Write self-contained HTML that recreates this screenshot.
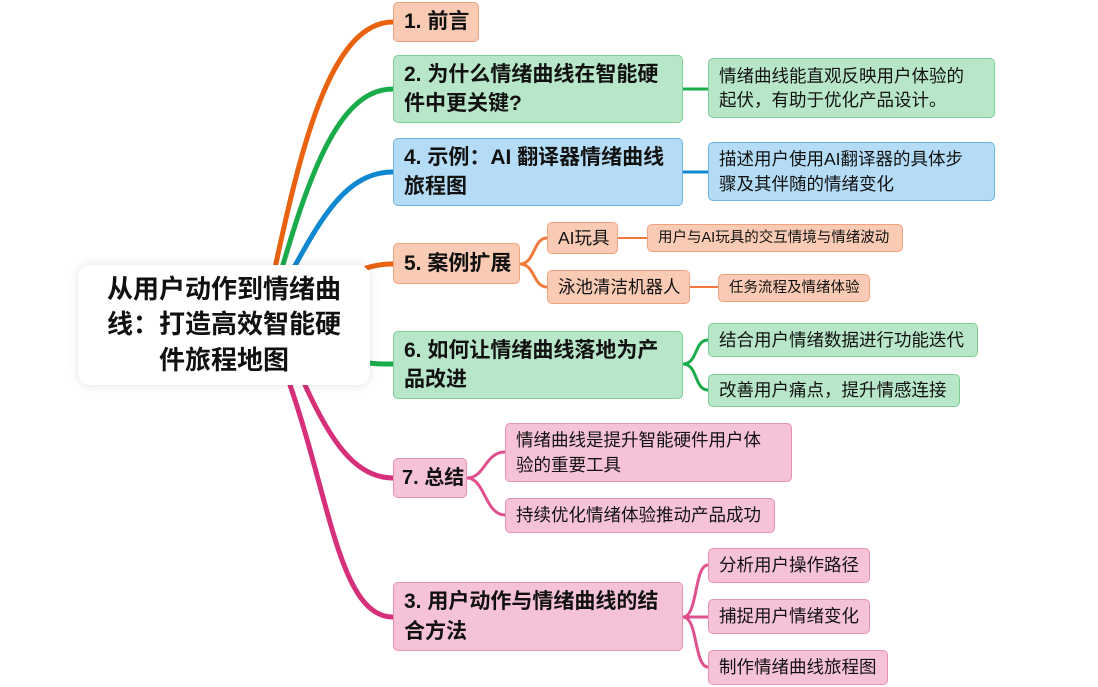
<!DOCTYPE html>
<html><head><meta charset="utf-8"><style>
body{margin:0;width:1098px;height:687px;background:#fff;position:relative;overflow:hidden;font-family:"Liberation Sans","Noto Sans CJK SC",sans-serif;color:#111}
.n{position:absolute;box-sizing:border-box;border-radius:5px;border:1.5px solid;padding:0 8px 0 10px;display:flex;align-items:center;line-height:1.4;white-space:nowrap}
.b{font-weight:bold;font-size:21px}
.s{font-size:17.5px}
.t{font-size:14.5px}
.o{background:#f9cab4;border-color:#f2a27e}
.g{background:#b8e6c8;border-color:#7fcf95}
.bl{background:#b5dcf6;border-color:#6fb6e6}
.p{background:#f5c2d8;border-color:#e891b7}
#root{position:absolute;left:78px;top:265px;width:292px;height:120px;background:#fff;border-radius:12px;box-shadow:0 0 10px rgba(0,0,0,.12);font-weight:bold;font-size:26px;text-align:center;line-height:1.35;display:flex;align-items:center;justify-content:center;box-sizing:border-box;white-space:nowrap}
</style></head><body>
<svg width="1098" height="687" style="position:absolute;left:0;top:0" fill="none" stroke-linecap="round">
<g stroke-width="5">
<path d="M272 282 C300 150 330 22 393 22" stroke="#e8620f"/>
<path d="M278 282 C310 170 340 89 393 89" stroke="#1aab4a"/>
<path d="M286 282 C320 220 345 172 393 172" stroke="#1088d0"/>
<path d="M345 280 C360 268 375 264 393 264" stroke="#e8620f"/>
<path d="M360 362 C375 364 380 364 393 364" stroke="#1aab4a"/>
<path d="M305 385 C330 440 355 478 393 478" stroke="#d6307a"/>
<path d="M290 385 C330 500 340 617 393 617" stroke="#d6307a"/>
</g>
<g stroke-width="3">
<path d="M683 89 H708" stroke="#1aab4a"/>
<path d="M683 172 H708" stroke="#1088d0"/>
<path d="M520 264 C535 264 533 238 547 238 M520 264 C535 264 533 287 547 287" stroke="#f07a3c"/>
<path d="M618 238 H647 M690 287 H718" stroke="#f07a3c" stroke-width="2"/>
<path d="M683 364 C698 364 694 340 708 340 M683 364 C698 364 694 390 708 390" stroke="#1aab4a"/>
<path d="M467 478 C485 478 485 452 505 452 M467 478 C485 478 485 515 505 515" stroke="#e0508f"/>
<path d="M683 617 C698 617 694 565 708 565 M683 617 H708 M683 617 C698 617 694 667 708 667" stroke="#e0508f"/>
</g>
</svg>
<div id="root">从用户动作到情绪曲<br>线：打造高效智能硬<br>件旅程地图</div>
<div class="n b o" style="left:393px;top:2px;width:86px;height:40px">1. 前言</div>
<div class="n b g" style="left:393px;top:55px;width:290px;height:68px">2. 为什么情绪曲线在智能硬<br>件中更关键?</div>
<div class="n b bl" style="left:393px;top:138px;width:290px;height:68px">4. 示例：AI 翻译器情绪曲线<br>旅程图</div>
<div class="n b o" style="left:393px;top:243px;width:127px;height:41px">5. 案例扩展</div>
<div class="n b g" style="left:393px;top:331px;width:290px;height:68px">6. 如何让情绪曲线落地为产<br>品改进</div>
<div class="n b p" style="left:393px;top:458px;width:74px;height:40px;padding:0 4px 0 8px;font-size:20px">7. 总结</div>
<div class="n b p" style="left:393px;top:582px;width:290px;height:69px">3. 用户动作与情绪曲线的结<br>合方法</div>
<div class="n s g" style="left:708px;top:58px;width:287px;height:60px">情绪曲线能直观反映用户体验的<br>起伏，有助于优化产品设计。</div>
<div class="n s bl" style="left:708px;top:142px;width:287px;height:59px">描述用户使用AI翻译器的具体步<br>骤及其伴随的情绪变化</div>
<div class="n s o" style="left:547px;top:222px;width:71px;height:32px">AI玩具</div>
<div class="n t o" style="left:647px;top:224px;width:256px;height:28px">用户与AI玩具的交互情境与情绪波动</div>
<div class="n s o" style="left:547px;top:270px;width:143px;height:34px">泳池清洁机器人</div>
<div class="n t o" style="left:718px;top:274px;width:152px;height:28px">任务流程及情绪体验</div>
<div class="n s g" style="left:708px;top:323px;width:270px;height:34px">结合用户情绪数据进行功能迭代</div>
<div class="n s g" style="left:708px;top:374px;width:252px;height:33px">改善用户痛点，提升情感连接</div>
<div class="n s p" style="left:505px;top:423px;width:287px;height:59px">情绪曲线是提升智能硬件用户体<br>验的重要工具</div>
<div class="n s p" style="left:505px;top:498px;width:270px;height:35px">持续优化情绪体验推动产品成功</div>
<div class="n s p" style="left:708px;top:548px;width:162px;height:35px">分析用户操作路径</div>
<div class="n s p" style="left:708px;top:599px;width:162px;height:35px">捕捉用户情绪变化</div>
<div class="n s p" style="left:708px;top:650px;width:180px;height:35px">制作情绪曲线旅程图</div>
</body></html>
